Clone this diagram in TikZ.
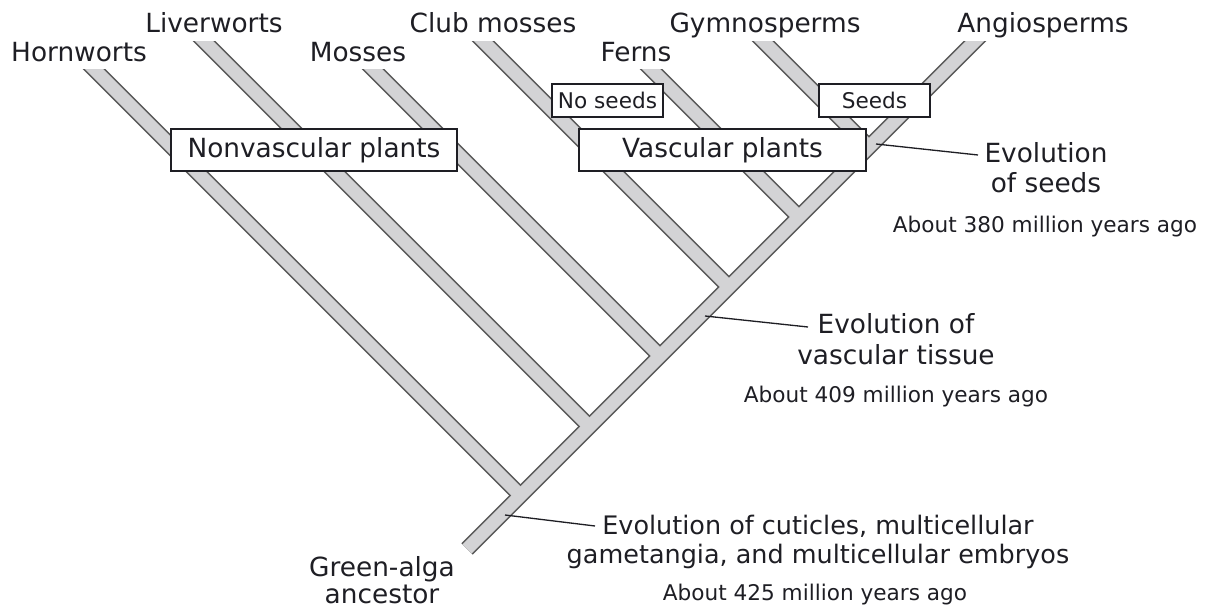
\documentclass[tikz,border=0pt]{standalone}
\usepackage{fontspec}
\setmainfont{DejaVu Sans}
\usetikzlibrary{calc}
\definecolor{stemgray}{RGB}{211,211,213}
\definecolor{stemline}{RGB}{88,88,88}
\definecolor{inkdark}{RGB}{30,30,36}

\begin{document}
\begin{tikzpicture}[x=0.02cm,y=-0.02cm,
    edgepass/.style={draw=stemline,line width=9.1pt},
    fillpass/.style={draw=stemgray,line width=7.3pt},
    groupbox/.style={draw=inkdark,fill=white,line width=0.8pt,inner sep=0pt,
      text=inkdark,font=\fontsize{15}{18}\selectfont},
    traitbox/.style={groupbox,font=\fontsize{12.3}{15}\selectfont},
    taxon/.style={anchor=base,text=inkdark,font=\fontsize{15}{18}\selectfont},
    note/.style={anchor=base,align=center,text=inkdark},
    leader/.style={draw=inkdark,line width=0.75pt}]
  \useasboundingbox (0,0) rectangle (1208,611);
  % Tips and branch points
  \coordinate (base) at (467,549);
  \coordinate (tAngio) at (974,42);
  \foreach \nm/\tx/\ty in {Horn/95/70,Liver/205/42,Moss/374/70,Club/484/42,Fern/652/70,Gymno/764/42}{
    \coordinate (t\nm) at (\tx,\ty);
    \coordinate (j\nm) at ({(1016+\tx-\ty)/2},{(1016-\tx+\ty)/2});
  }
  % Stems: outline first, then fill
  \foreach \pass in {edgepass,fillpass}{
    \begin{scope}
      \clip (0,0 |- tAngio) rectangle (1208,611);
      \draw[\pass] (base) -- ($(tAngio)+(14,-14)$);
    \end{scope}
    \foreach \nm in {Horn,Liver,Moss,Club,Fern,Gymno}{
      \begin{scope}
        \clip (0,0 |- t\nm) rectangle (1208,611);
        \draw[\pass] (j\nm) -- ($(t\nm)+(-14,-14)$);
      \end{scope}
    }
  }
  % Group boxes
  \node[groupbox,minimum width=5.72cm,minimum height=0.84cm] (nonvasc) at (314,150) {Nonvascular plants};
  \node[groupbox,minimum width=5.74cm,minimum height=0.84cm] (vasc) at (722.5,150) {Vascular plants};
  \node[traitbox,minimum width=2.22cm,minimum height=0.66cm] (noseed) at (607.5,100.5) {No seeds};
  \node[traitbox,minimum width=2.22cm,minimum height=0.66cm] (seed) at (874.5,100.5) {Seeds};
  % Taxa
  \node[taxon] (horn) at (79,62) {Hornworts};
  \node[taxon] (liver) at (214,33) {Liverworts};
  \node[taxon] (moss) at (358,62) {Mosses};
  \node[taxon] (club) at (493,33) {Club mosses};
  \node[taxon] (fern) at (636,62) {Ferns};
  \node[taxon] (gymno) at (765,33) {Gymnosperms};
  \node[taxon] (angio) at (1043,33) {Angiosperms};
  \node[note,font=\fontsize{15}{14.8}\selectfont] (alga) at (382,603) {Green-alga\\ancestor};
  % Annotations
  \node[note,font=\fontsize{15}{17.6}\selectfont] (seedtxt) at (1046,193) {Evolution\\of seeds};
  \node[note,font=\fontsize{12.3}{15}\selectfont] (seedage) at (1045,233) {About 380 million years ago};
  \node[note,font=\fontsize{15}{18.2}\selectfont] (vasctxt) at (896,365) {Evolution of\\vascular tissue};
  \node[note,font=\fontsize{12.3}{15}\selectfont] (vascage) at (896,403) {About 409 million years ago};
  \node[note,font=\fontsize{14.5}{16}\selectfont] (cuttxt) at (818,563) {Evolution of cuticles, multicellular\\gametangia, and multicellular embryos};
  \node[note,font=\fontsize{12.3}{15}\selectfont] (cutage) at (815,600) {About 425 million years ago};
  % Leader lines
  \coordinate (mSeed) at (876,144);
  \coordinate (eSeed) at (978,155);
  \coordinate (mVasc) at (705,316);
  \coordinate (eVasc) at (808,327);
  \coordinate (mCut) at (505,515);
  \coordinate (eCut) at (595,526);
  \draw[leader] (mSeed) -- (eSeed);
  \draw[leader] (mVasc) -- (eVasc);
  \draw[leader] (mCut) -- (eCut);
\end{tikzpicture}
\end{document}
